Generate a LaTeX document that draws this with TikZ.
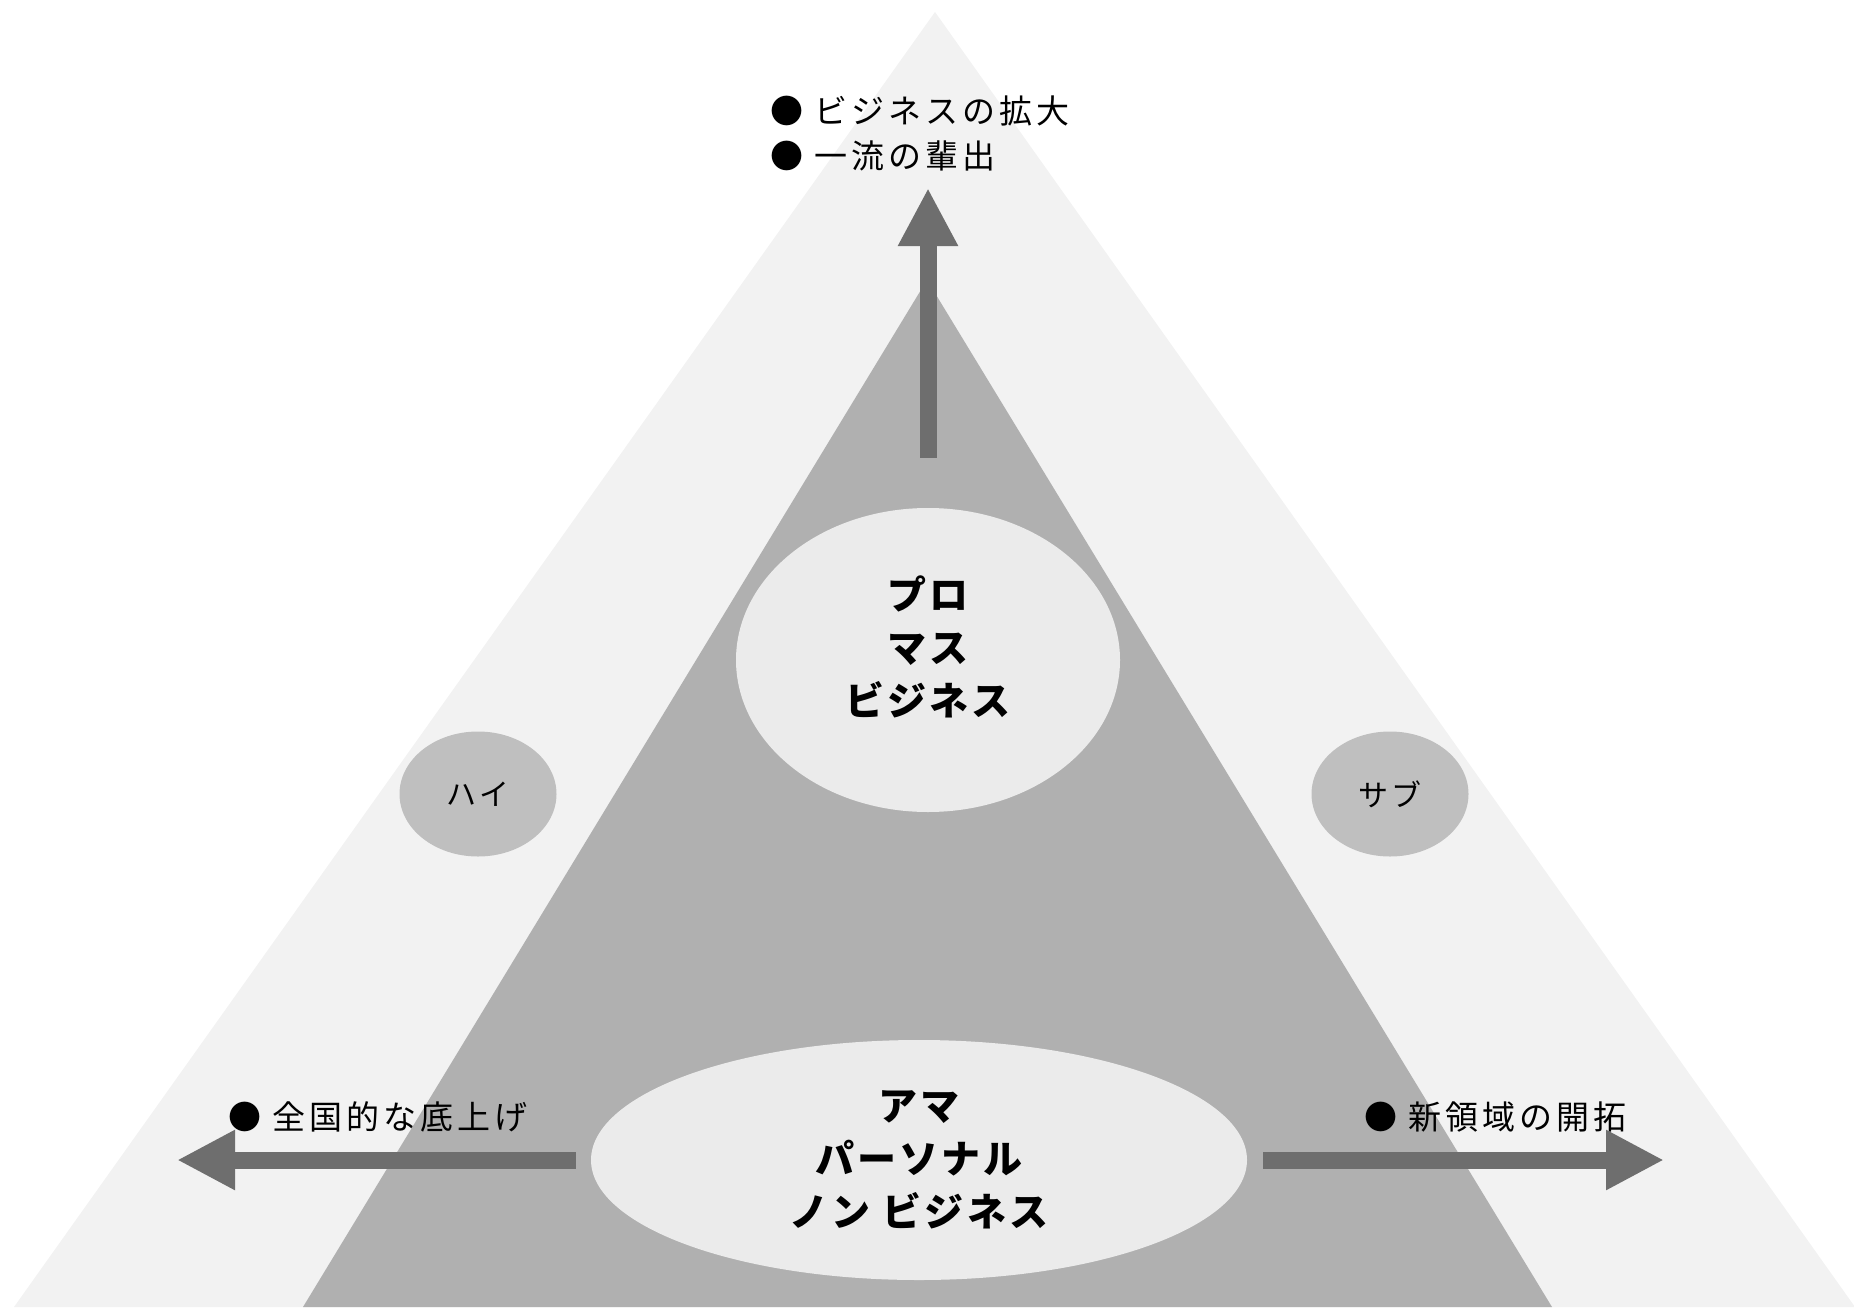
\documentclass[tikz,border=0pt]{standalone}
\usepackage{fontspec}
\newfontfamily\jpfont[LetterSpace=12]{Noto Sans CJK JP}
\newfontfamily\jpmidfont[LetterSpace=8]{Noto Sans CJK JP}
\usetikzlibrary{shapes.geometric,arrows.meta}
\definecolor{outergray}{gray}{0.95}
\definecolor{innergray}{gray}{0.69}
\definecolor{ovalgray}{gray}{0.92}
\definecolor{sidegray}{gray}{0.75}
\definecolor{arrowgray}{gray}{0.43}
\begin{document}
\begin{tikzpicture}[x=1pt,y=-1pt,line join=round,
        blob/.style={ellipse,inner sep=0pt,fill=ovalgray},
        sideblob/.style={ellipse,inner sep=0pt,fill=sidegray,minimum width=157pt,minimum height=125pt,font=\jpfont\fontsize{30}{30}\selectfont},
        midtext/.style={inner sep=0pt,align=center,font=\jpmidfont\bfseries\fontsize{39}{53}\selectfont},
        note/.style={inner sep=0pt,anchor=west,align=left,font=\jpfont\fontsize{33}{45}\selectfont},
        bigarrow/.style={line width=17pt,draw=arrowgray,-{Triangle[length=58pt,width=56pt]}}]
            \useasboundingbox (0,0) rectangle (1854,1311);
            \fill[outergray] (935,12)--(14,1307)--(1855,1307)--cycle;
            \fill[innergray] (927,280)--(303,1307)--(1552,1307)--cycle;
            \node[blob,minimum width=384pt,minimum height=304pt] (pro) at (928,660) {};
            \node[midtext] (protext) at ([yshift=13pt]pro.center) {プロ\\マス\\ビジネス};
            \node[blob,minimum width=656pt,minimum height=240pt] (ama) at (919,1160) {};
            \node[midtext] (amatext) at (ama.center) {アマ\\パーソナル\\ノン ビジネス};
            \node[sideblob] (hai) at (478,794) {ハイ};
            \node[sideblob] (sub) at (1390,794) {サブ};
            \node[note] (goals) at (770,133) {● ビジネスの拡大\\● 一流の輩出};
            \node[note] (spread) at (228,1117) {● 全国的な底上げ};
            \node[note] (frontier) at (1364,1117) {● 新領域の開拓};
            \coordinate (uptip) at (928,188);
            \coordinate (lefttip) at (177,1160);
            \coordinate (righttip) at (1664,1160);
            \draw[bigarrow,shorten <=50pt] (pro.north)--(uptip);
            \draw[bigarrow,shorten <=15pt] (ama.west)--(lefttip);
            \draw[bigarrow,shorten <=16pt] (ama.east)--(righttip);
        \end{tikzpicture}
\end{document}
